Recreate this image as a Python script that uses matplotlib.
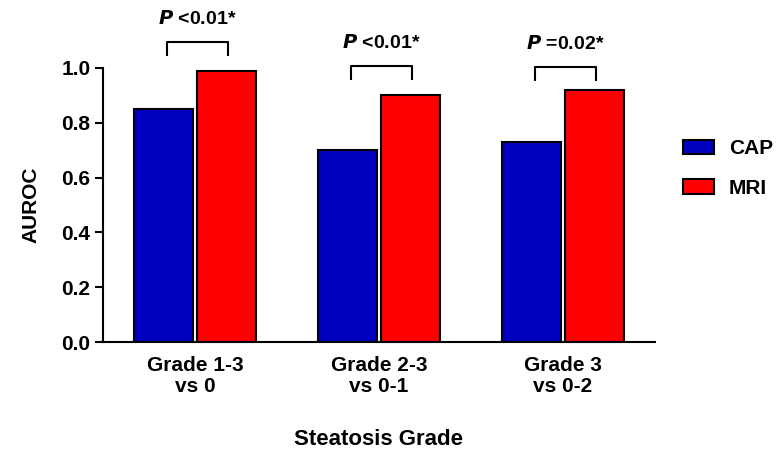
import matplotlib.pyplot as plt
import numpy as np

plt.rcParams["font.family"] = ["Liberation Sans", "DejaVu Sans"]
plt.rcParams["font.weight"] = "bold"

categories = ["Grade 1-3\nvs 0", "Grade 2-3\nvs 0-1", "Grade 3\nvs 0-2"]
cap_auroc = [0.85, 0.70, 0.73]
mri_auroc = [0.99, 0.90, 0.92]
p_labels = ["<0.01*", "<0.01*", "=0.02*"]
bracket_top = [1.095, 1.007, 1.004]

fig = plt.figure(figsize=(7.79, 4.53), dpi=100)
ax = fig.add_axes([0.1322, 0.245, 0.7086, 0.605])

x = np.arange(len(categories))
w = 0.32
off = 0.171
ax.bar(x - off, cap_auroc, w, color="#0000C0", edgecolor="black", linewidth=1.5, label="CAP")
ax.bar(x + off, mri_auroc, w, color="#FF0000", edgecolor="black", linewidth=1.5, label="MRI")

# significance brackets
for i in range(len(categories)):
    top = bracket_top[i]
    x0, x1 = x[i] - off + 0.02, x[i] + off + 0.01
    ax.plot([x0, x0, x1, x1], [top - 0.052, top, top, top - 0.052],
            color="black", lw=1.5, clip_on=False, solid_capstyle="butt")
    ax.text((x0 + x1) / 2, top + 0.05, r"$\bf{\it{P}}$ " + p_labels[i],
            ha="center", va="bottom", fontsize=14, fontweight="bold", clip_on=False)

ax.set_xlim(-0.5, 2.5)
ax.set_ylim(0, 1.0)
ax.set_yticks([0.0, 0.2, 0.4, 0.6, 0.8, 1.0])
ax.set_yticklabels(["0.0", "0.2", "0.4", "0.6", "0.8", "1.0"])
ax.set_xticks(x)
ax.set_xticklabels(categories, fontsize=15, fontweight="bold", linespacing=1.15)
ax.tick_params(axis="x", length=0, pad=10)
ax.tick_params(axis="y", length=6, width=1.5, labelsize=15, pad=3)

for s in ["top", "right"]:
    ax.spines[s].set_visible(False)
for s in ["left", "bottom"]:
    ax.spines[s].set_linewidth(1.5)

ax.set_ylabel("AUROC", fontsize=15, fontweight="bold", labelpad=15)
ax.set_xlabel("Steatosis Grade", fontsize=16, fontweight="bold", labelpad=24)

ax.legend(loc="center left", bbox_to_anchor=(0.853, 0.628), bbox_transform=fig.transFigure,
          frameon=False, fontsize=15, handlelength=1.5, handleheight=0.7,
          labelspacing=1.0, handletextpad=0.7)

fig.savefig("out.png", dpi=100)
